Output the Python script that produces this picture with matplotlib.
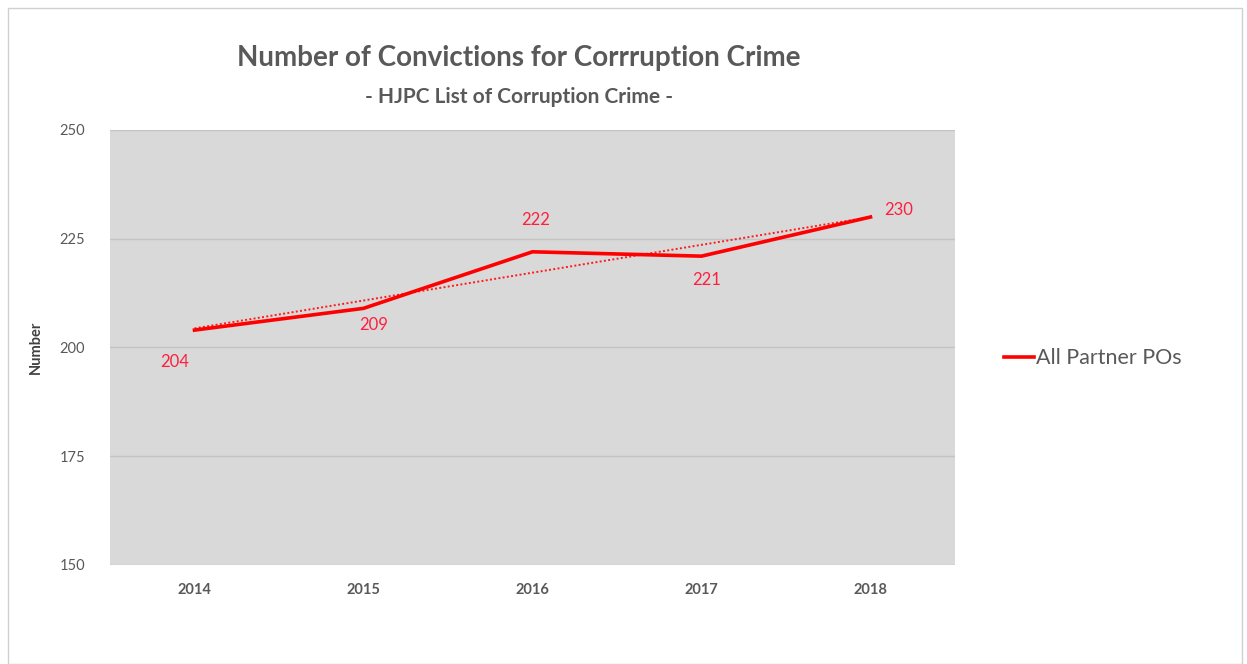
import numpy as np
import matplotlib.pyplot as plt
from matplotlib.patches import Rectangle

years = ["2014", "2015", "2016", "2017", "2018"]
convictions = [204, 209, 222, 221, 230]
# label offsets in points for each data label
label_offsets = [(-14, -23), (7, -12), (2, 23), (4, -17), (20, 5)]

plt.rcParams['font.family'] = ['Lato', 'DejaVu Sans']

fig = plt.figure(figsize=(12.47, 6.64), dpi=100)
fig.patch.set_facecolor('white')

# outer chart frame
fig.add_artist(Rectangle((8 / 1247, 0.0), 1234 / 1247, 656 / 664,
                         transform=fig.transFigure, fill=False,
                         edgecolor='#d0d0d0', linewidth=1.0))

ax = fig.add_axes([110 / 1247, 1 - 565 / 664, 845 / 1247, 435 / 664])
ax.set_facecolor('#d9d9d9')

x = np.arange(len(years))
ax.plot(x, convictions, color='#ff0000', linewidth=2.6,
        solid_joinstyle='round', label='All Partner POs', zorder=3)

# linear trend
slope, intercept = np.polyfit(x, convictions, 1)
ax.plot(x, slope * x + intercept, color='#ff1a1a', linestyle=(0, (1, 1.2)),
        linewidth=1.4, zorder=2)

for xi, val, off in zip(x, convictions, label_offsets):
    ax.annotate(str(val), (xi, val), xytext=off, textcoords='offset points',
                ha='center', va='center', color='#ff1f3d', fontsize=12)

ax.set_xlim(-0.5, len(years) - 0.5)
ax.set_ylim(150, 250)
ax.set_yticks([150, 175, 200, 225, 250])
ax.set_xticks(x)
ax.set_xticklabels(years, fontweight='bold')
ax.tick_params(length=0, colors='#595959', labelsize=10.5)
ax.tick_params(axis='x', pad=13)
ax.tick_params(axis='y', pad=18)
ax.grid(axis='y', color='#c4c4c4', linewidth=1.0)
ax.set_axisbelow(True)
for s in ax.spines.values():
    s.set_visible(False)

ax.set_ylabel('Number', color='#404040', fontsize=10.5, fontweight='bold',
              labelpad=12)

fig.text(519 / 1247, 1 - 58 / 664, 'Number of Convictions for Corrruption Crime',
         ha='center', va='center', fontsize=20, fontweight='bold',
         color='#595959')
fig.text(519 / 1247, 1 - 97 / 664, '- HJPC List of Corruption Crime -',
         ha='center', va='center', fontsize=15, fontweight='bold',
         color='#595959')

ax.legend(loc='center left', bbox_to_anchor=(1.035, 0.475), frameon=False,
          fontsize=15.5, handlelength=1.4, handletextpad=0.1,
          labelcolor='#595959')

fig.savefig('out.png', dpi=100, facecolor='white')
